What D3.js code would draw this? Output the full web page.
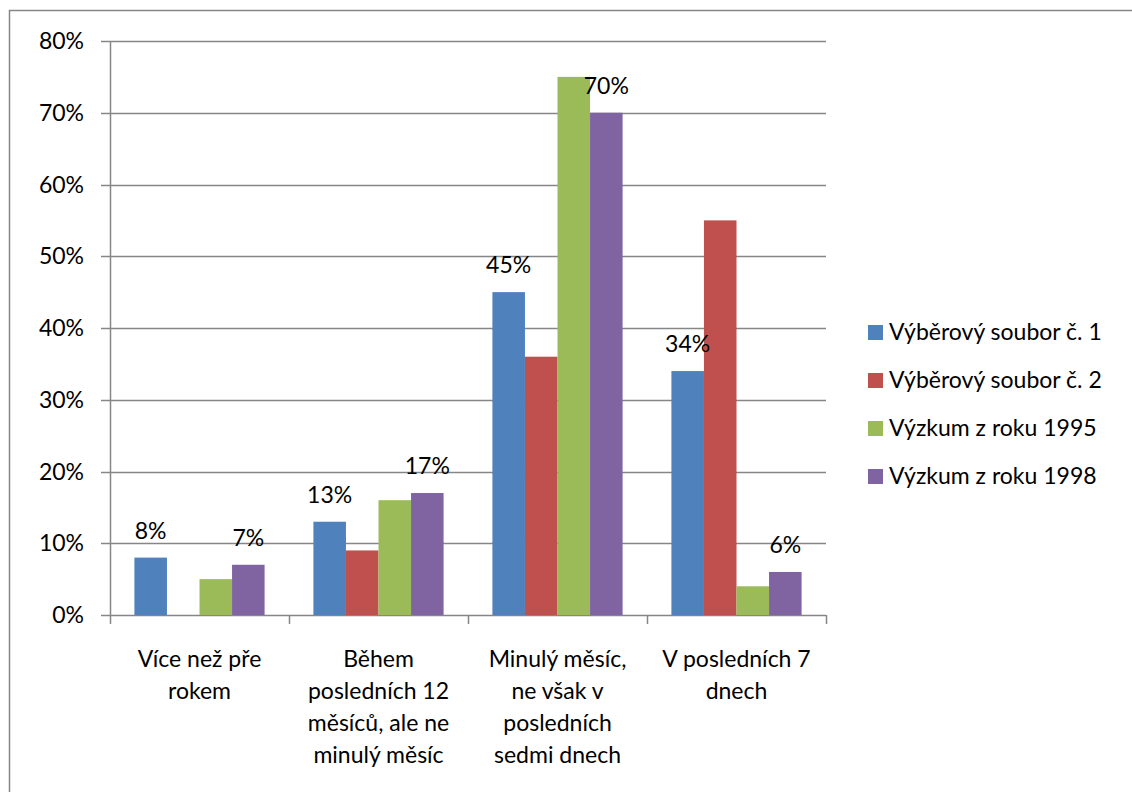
<!DOCTYPE html>
<html>
<head>
<meta charset="utf-8">
<script src="https://cdn.jsdelivr.net/npm/d3@7"></script>
<style>
  body { margin: 0; background: #fff; }
  svg text { font-family: Lato, "Open Sans", sans-serif; font-size: 23px; fill: #000; }
</style>
</head>
<body>
<svg id="chart" width="1132" height="792"></svg>
<script>
// data
const categories = [
  ['Více než pře', 'rokem'],
  ['Během', 'posledních 12', 'měsíců, ale ne', 'minulý měsíc'],
  ['Minulý měsíc,', 'ne však v', 'posledních', 'sedmi dnech'],
  ['V posledních 7', 'dnech']
];
const seriesNames = ['Výběrový soubor č. 1', 'Výběrový soubor č. 2', 'Výzkum z roku 1995', 'Výzkum z roku 1998'];
const seriesColors = ['#4F81BD', '#C0504D', '#9BBB59', '#8064A2'];
const s1 = [8, 13, 45, 34];
const s2 = [null, 9, 36, 55];
const s1995 = [5, 16, 75, 4];
const s1998 = [7, 17, 70, 6];
const labeled = [true, false, false, true];   // which series show data labels
const yTicks = [0, 10, 20, 30, 40, 50, 60, 70, 80];

const series = [s1, s2, s1995, s1998];

const svg = d3.select('#chart');

// outer chart border
svg.append('rect')
    .attr('x', 9.5).attr('y', 10.5)
    .attr('width', 1130).attr('height', 790)
    .attr('fill', 'none')
    .attr('stroke', '#878787')
    .attr('stroke-width', 1.5);

const plotL = 110, plotR = 826, plotT = 41, plotB = 615;

const x0 = d3.scaleBand()
    .domain(d3.range(categories.length))
    .range([plotL, plotR])
    .paddingInner(0)
    .paddingOuter(0);

const x1 = d3.scaleBand()
    .domain(d3.range(series.length))
    .range([0, x0.bandwidth()])
    .paddingOuter(0.75)
    .paddingInner(0);

const y = d3.scaleLinear().domain([0, 80]).range([plotB, plotT]);

// gridlines
svg.append('g')
    .selectAll('line')
    .data(yTicks)
    .join('line')
    .attr('x1', plotL - 9).attr('x2', plotR)
    .attr('y1', d => Math.round(y(d)) + 0.5)
    .attr('y2', d => Math.round(y(d)) + 0.5)
    .attr('stroke', '#868686')
    .attr('stroke-width', 1.5);

// y tick labels
svg.append('g')
    .selectAll('text')
    .data(yTicks)
    .join('text')
    .attr('x', 84)
    .attr('y', d => y(d) + 8)
    .attr('text-anchor', 'end')
    .text(d => d + '%');

// y axis line
svg.append('line')
    .attr('x1', plotL + 0.5).attr('x2', plotL + 0.5)
    .attr('y1', plotT).attr('y2', plotB)
    .attr('stroke', '#868686').attr('stroke-width', 1.5);

// x axis ticks
svg.append('g')
    .selectAll('line')
    .data(d3.range(categories.length + 1))
    .join('line')
    .attr('x1', i => i < categories.length ? x0(i) + 0.5 : plotR + 0.5)
    .attr('x2', i => i < categories.length ? x0(i) + 0.5 : plotR + 0.5)
    .attr('y1', plotB).attr('y2', plotB + 9)
    .attr('stroke', '#868686').attr('stroke-width', 1.5);

// bars
const groups = svg.append('g')
    .selectAll('g')
    .data(categories)
    .join('g')
    .attr('transform', (d, i) => `translate(${x0(i)},0)`);

groups.selectAll('rect')
    .data((d, i) => series.map((s, k) => ({k, v: s[i]})).filter(e => e.v != null))
    .join('rect')
    .attr('x', e => x1(e.k))
    .attr('width', x1.bandwidth())
    .attr('y', e => y(e.v))
    .attr('height', e => y(0) - y(e.v))
    .attr('fill', e => seriesColors[e.k]);

// data labels
groups.selectAll('text.lbl')
    .data((d, i) => series.map((s, k) => ({k, v: s[i]})).filter(e => e.v != null && labeled[e.k]))
    .join('text')
    .attr('class', 'lbl')
    .attr('x', e => x1(e.k) + x1.bandwidth() / 2)
    .attr('y', e => y(e.v) - 19)
    .attr('text-anchor', 'middle')
    .text(e => e.v + '%');

// category labels
groups.selectAll('text.cat')
    .data(d => d)
    .join('text')
    .attr('class', 'cat')
    .attr('x', x0.bandwidth() / 2)
    .attr('y', (d, j) => 667 + j * 32)
    .attr('text-anchor', 'middle')
    .text(d => d);

// legend
const legend = svg.append('g')
    .selectAll('g')
    .data(seriesNames)
    .join('g')
    .attr('transform', (d, i) => `translate(868,${332 + i * 48})`);

legend.append('rect')
    .attr('x', 0).attr('y', -7)
    .attr('width', 15).attr('height', 15)
    .attr('fill', (d, i) => seriesColors[i]);

legend.append('text')
    .attr('x', 21)
    .attr('y', 8)
    .text(d => d);
</script>
</body>
</html>
